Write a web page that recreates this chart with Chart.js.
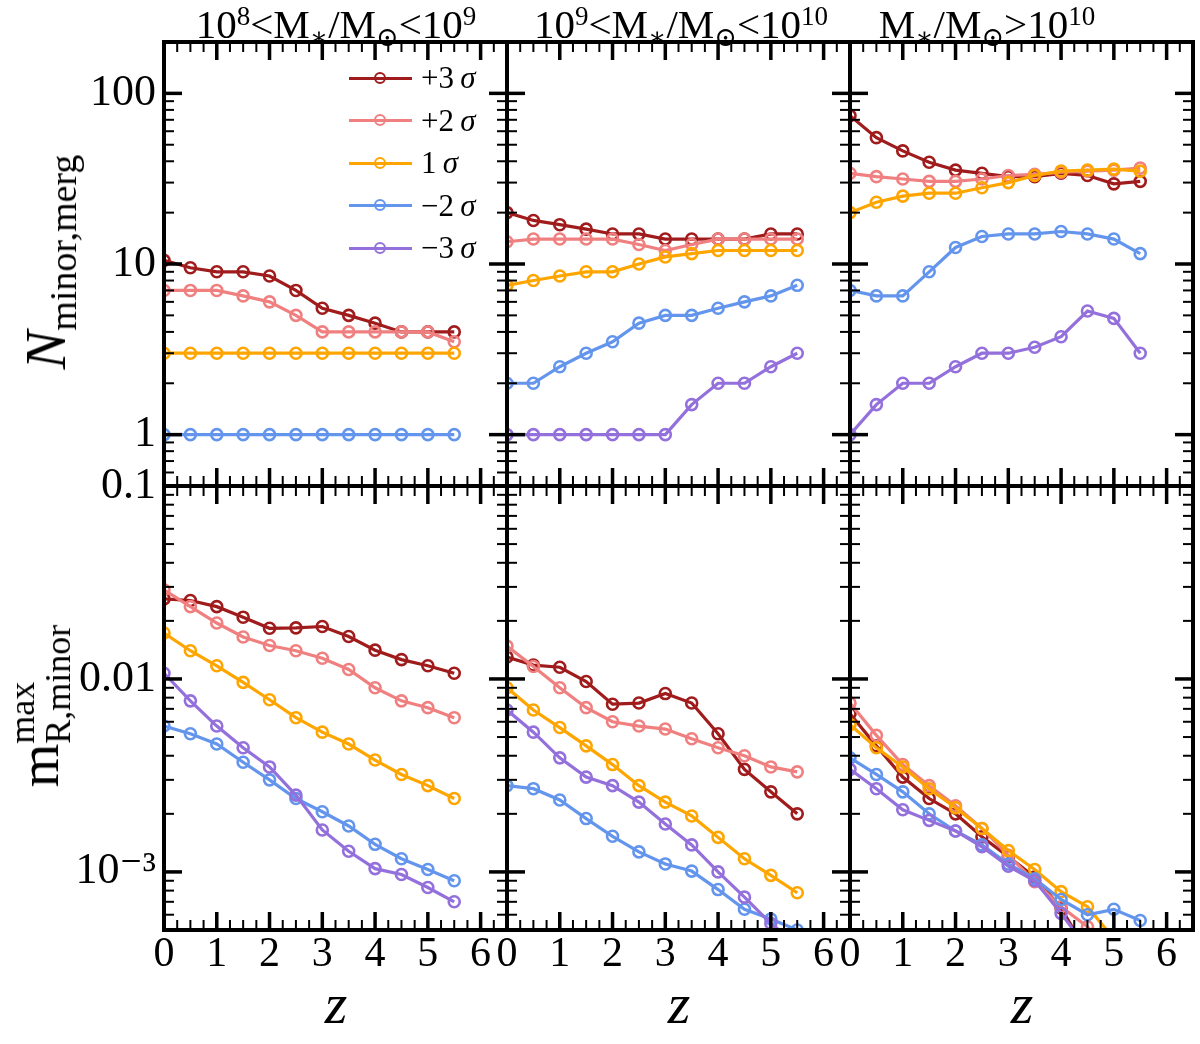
<!DOCTYPE html>
<html>
<head>
<meta charset="utf-8">
<script src="https://cdn.jsdelivr.net/npm/chart.js@4.4.0/dist/chart.umd.min.js"></script>
<style>
html,body{margin:0;padding:0;background:#fff;}
#root{position:relative;width:1200px;height:1044px;overflow:hidden;background:#fff;font-family:'Liberation Serif','DejaVu Serif',serif;color:#000;}
canvas{position:absolute;}
.title{position:absolute;font-size:41px;line-height:1;white-space:nowrap;transform:translateX(-50%);}
.sp{position:relative;top:-0.48em;font-size:0.66em;}
.sb{position:relative;top:0.28em;font-size:0.66em;}
.xt{position:absolute;font-size:58px;font-style:italic;line-height:1;transform:translate(-50%,-50%);}
.yt{position:absolute;white-space:nowrap;line-height:1;transform:translate(-50%,-50%) rotate(-90deg);}
.leg-line{position:absolute;height:3px;}
.leg-dot{position:absolute;width:8px;height:8px;border-radius:50%;border:2.5px solid;background:transparent;}
.leg-txt{position:absolute;font-size:31px;line-height:31px;white-space:nowrap;}
</style>
</head>
<body>
<div id="root"></div>
<script>
// ---------------- data ----------------
const zValues = [0, 0.5, 1, 1.5, 2, 2.5, 3, 3.5, 4, 4.5, 5, 5.5];
const seriesLabels = ['+3σ', '+2σ', '1σ', '−2σ', '−3σ'];
const seriesColors = ['#a01c1c', '#f08080', '#ffa500', '#6495ed', '#9370db'];
const xTickValues = [0, 1, 2, 3, 4, 5, 6];
const nTickValues = [1, 10, 100];
const nTickLabels = ['1', '10', '100'];
const mTickValues = [0.001, 0.01, 0.1];
const mTickLabels = ['10⁻³', '0.01', '0.1'];
const panelTitles = [
  '10<span class="sp">8</span>&lt;M<span class="sb">∗</span>/M<span class="sb">⊙</span>&lt;10<span class="sp">9</span>',
  '10<span class="sp">9</span>&lt;M<span class="sb">∗</span>/M<span class="sb">⊙</span>&lt;10<span class="sp">10</span>',
  'M<span class="sb">∗</span>/M<span class="sb">⊙</span>&gt;10<span class="sp">10</span>'
];

// N_minor,merg : 1e8 < M* < 1e9
const nLo_p3 = [10.5, 9.5, 9, 9, 8.5, 7, 5.5, 5, 4.5, 4, 4, 4];
const nLo_p2 = [7, 7, 7, 6.5, 6, 5, 4, 4, 4, 4, 4, 3.5];
const nLo_1  = [3, 3, 3, 3, 3, 3, 3, 3, 3, 3, 3, 3];
const nLo_m2 = [1, 1, 1, 1, 1, 1, 1, 1, 1, 1, 1, 1];
const nLo_m3 = [0, 0, 0, 0, 0, 0, 0, 0, 0, 0, 0, 0];
// N_minor,merg : 1e9 < M* < 1e10
const nMid_p3 = [20, 18, 17, 16, 15, 15, 14, 14, 14, 14, 15, 15];
const nMid_p2 = [13.5, 14, 14, 14, 14, 13, 12, 13, 14, 14, 14, 14];
const nMid_1  = [7.5, 8, 8.5, 9, 9, 10, 11, 11.5, 12, 12, 12, 12];
const nMid_m2 = [2, 2, 2.5, 3, 3.5, 4.5, 5, 5, 5.5, 6, 6.5, 7.5];
const nMid_m3 = [1, 1, 1, 1, 1, 1, 1, 1.5, 2, 2, 2.5, 3];
// N_minor,merg : M* > 1e10
const nHi_p3 = [74, 55, 46, 39.5, 35.5, 34, 32.5, 32.5, 34, 33, 29.5, 30.5];
const nHi_p2 = [34, 32.5, 31.5, 30.5, 30.5, 31.5, 33, 33.5, 34.5, 35, 35.5, 36.5];
const nHi_1  = [20, 23, 25, 26, 26, 28, 30, 33, 35, 35.5, 36, 35];
const nHi_m2 = [7, 6.5, 6.5, 9, 12.5, 14.5, 15, 15, 15.5, 15, 14, 11.5];
const nHi_m3 = [1, 1.5, 2, 2, 2.5, 3, 3, 3.25, 3.75, 5.3, 4.8, 3];

// m^max_R,minor : 1e8 < M* < 1e9
const mLo_p3 = [0.026, 0.0255, 0.0237, 0.0209, 0.0183, 0.0184, 0.0187, 0.0166, 0.0141, 0.0126, 0.0117, 0.0107];
const mLo_p2 = [0.029, 0.0237, 0.0195, 0.0165, 0.0149, 0.0140, 0.0128, 0.0112, 0.0090, 0.0077, 0.0071, 0.0063];
const mLo_1  = [0.0173, 0.0140, 0.0117, 0.0096, 0.0078, 0.0063, 0.0053, 0.0046, 0.0038, 0.0032, 0.0028, 0.0024];
const mLo_m2 = [0.0057, 0.0052, 0.0046, 0.0037, 0.0030, 0.0024, 0.00205, 0.00173, 0.00139, 0.00117, 0.00103, 0.0009];
const mLo_m3 = [0.0107, 0.0077, 0.0057, 0.0044, 0.0035, 0.0025, 0.00165, 0.00128, 0.00104, 0.00097, 0.00083, 0.0007];
// m^max_R,minor : 1e9 < M* < 1e10
const mMid_p3 = [0.0130, 0.0118, 0.0115, 0.0097, 0.0074, 0.0075, 0.0084, 0.0075, 0.0052, 0.0034, 0.0026, 0.0020];
const mMid_p2 = [0.0148, 0.0116, 0.0090, 0.0071, 0.0060, 0.0057, 0.0055, 0.0049, 0.0044, 0.0040, 0.0035, 0.0033];
const mMid_1  = [0.0090, 0.0069, 0.0056, 0.0045, 0.0036, 0.0028, 0.0023, 0.00195, 0.00151, 0.00117, 0.00096, 0.00078];
const mMid_m2 = [0.0028, 0.0027, 0.00236, 0.00189, 0.00153, 0.00127, 0.0011, 0.00101, 0.00081, 0.00064, 0.00057, 0.0005];
const mMid_m3 = [0.0069, 0.0053, 0.0039, 0.0031, 0.0028, 0.0023, 0.00177, 0.00138, 0.0010, 0.00074, 0.00054, 0.00042];
// m^max_R,minor : M* > 1e10
const mHi_p3 = [0.0066, 0.0045, 0.0031, 0.0024, 0.0020, 0.00152, 0.0012, 0.00094, 0.00065, 0.00038, 0.0003, 0.00025];
const mHi_p2 = [0.0075, 0.0051, 0.0036, 0.0028, 0.0022, 0.00168, 0.00122, 0.00089, 0.00066, 0.00052, 0.00035, 0.00025];
const mHi_1  = [0.0058, 0.0044, 0.0035, 0.0027, 0.00215, 0.00168, 0.00129, 0.00103, 0.00079, 0.00066, 0.00045, 0.00035];
const mHi_m2 = [0.0039, 0.0032, 0.0026, 0.0020, 0.00163, 0.00138, 0.0011, 0.00092, 0.00072, 0.0006, 0.00064, 0.00056];
const mHi_m3 = [0.0034, 0.0027, 0.0021, 0.00185, 0.00163, 0.00135, 0.00107, 0.0009, 0.00061, 0.0004, 0.0003, 0.00025];

// ---------------- layout ----------------
const FONT = "'Liberation Serif','DejaVu Serif',serif";
const COL_LEFT = [164, 507, 850];
const ROW_TOP = [42, 486];
const PW = 343, PH = 444;
const X_MIN = 0, X_MAX = 6.5, X_MINOR = 0.25;
const Y_RANGE = [[0.5, 200], [5e-4, 0.1]];

const root = document.getElementById('root');

const framePlugin = {
  id: 'frame',
  afterDraw(chart) {
    const ctx = chart.ctx, a = chart.chartArea;
    const xs = chart.scales.x, ys = chart.scales.y;
    ctx.save();
    ctx.strokeStyle = '#000';
    ctx.lineCap = 'butt';
    const line = (x1, y1, x2, y2, w) => {
      ctx.lineWidth = w; ctx.beginPath(); ctx.moveTo(x1, y1); ctx.lineTo(x2, y2); ctx.stroke();
    };
    const nx = Math.round((xs.max - xs.min) / X_MINOR);
    for (let k = 1; k < nx + 1; k++) {
      const v = xs.min + k * X_MINOR;
      if (v >= xs.max - 1e-9) break;
      const major = k % 4 === 0;
      const len = major ? 18 : 10, w = major ? 3.5 : 2;
      const px = xs.getPixelForValue(v);
      line(px, a.bottom, px, a.bottom - len, w);
      line(px, a.top, px, a.top + len, w);
    }
    const d0 = Math.floor(Math.log10(ys.min)), d1 = Math.ceil(Math.log10(ys.max));
    for (let d = d0; d <= d1; d++) {
      for (let m = 1; m <= 9; m++) {
        const v = m * Math.pow(10, d);
        if (v <= ys.min * 1.0001 || v >= ys.max * 0.9999) continue;
        const major = m === 1;
        const len = major ? 18 : 10, w = major ? 3.5 : 2;
        const py = ys.getPixelForValue(v);
        line(a.left, py, a.left + len, py, w);
        line(a.right, py, a.right - len, py, w);
      }
    }
    ctx.lineWidth = 4;
    ctx.strokeRect(a.left, a.top, a.right - a.left, a.bottom - a.top);
    ctx.restore();
  }
};

function makePanel(col, row, series) {
  const padL = col === 0 ? 164 : 40, padR = 20, padT = 44, padB = row === 1 ? 110 : 60;
  const cw = padL + PW + padR, ch = padT + PH + padB;
  const canvas = document.createElement('canvas');
  canvas.width = cw; canvas.height = ch;
  canvas.style.left = (COL_LEFT[col] - padL) + 'px';
  canvas.style.top = (ROW_TOP[row] - padT) + 'px';
  canvas.style.width = cw + 'px'; canvas.style.height = ch + 'px';
  root.appendChild(canvas);
  const tickVals = row === 0 ? nTickValues : mTickValues;
  const tickLabs = row === 0 ? nTickLabels : mTickLabels;
  new Chart(canvas, {
    type: 'line',
    data: {
      datasets: series.map((arr, i) => ({
        label: seriesLabels[i],
        data: zValues.map((z, j) => ({ x: z, y: arr[j] > 0 ? arr[j] : null })),
        borderColor: seriesColors[i],
        backgroundColor: 'rgba(0,0,0,0)',
        borderWidth: 3.2,
        pointRadius: 5.5,
        pointBorderWidth: 2.6,
        pointBackgroundColor: 'rgba(0,0,0,0)',
        pointBorderColor: seriesColors[i],
        tension: 0,
        order: series.length - i
      }))
    },
    options: {
      responsive: false, animation: false, devicePixelRatio: 1, events: [],
      layout: { padding: { left: 0, right: padR, top: padT, bottom: 0 } },
      plugins: { legend: { display: false }, tooltip: { enabled: false } },
      scales: {
        x: {
          type: 'linear', min: X_MIN, max: X_MAX, position: 'bottom',
          grid: { display: false, drawTicks: false }, border: { display: false },
          afterBuildTicks: s => { s.ticks = xTickValues.map(v => ({ value: v })); },
          afterFit: s => { s.height = padB; },
          ticks: { display: row === 1, autoSkip: false, maxRotation: 0, color: '#000',
                   padding: 0, font: { family: FONT, size: 42 }, callback: v => String(v) }
        },
        y: {
          type: 'logarithmic', min: Y_RANGE[row][0], max: Y_RANGE[row][1], position: 'left',
          grid: { display: false, drawTicks: false }, border: { display: false },
          afterBuildTicks: s => { s.ticks = tickVals.map(v => ({ value: v })); },
          afterFit: s => { s.width = padL; },
          ticks: { display: col === 0, autoSkip: false, color: '#000', padding: 8,
                   font: { family: FONT, size: 44 }, callback: (v, i) => tickLabs[i] }
        }
      }
    },
    plugins: [framePlugin]
  });
}

makePanel(0, 0, [nLo_p3, nLo_p2, nLo_1, nLo_m2, nLo_m3]);
makePanel(1, 0, [nMid_p3, nMid_p2, nMid_1, nMid_m2, nMid_m3]);
makePanel(2, 0, [nHi_p3, nHi_p2, nHi_1, nHi_m2, nHi_m3]);
makePanel(0, 1, [mLo_p3, mLo_p2, mLo_1, mLo_m2, mLo_m3]);
makePanel(1, 1, [mMid_p3, mMid_p2, mMid_1, mMid_m2, mMid_m3]);
makePanel(2, 1, [mHi_p3, mHi_p2, mHi_1, mHi_m2, mHi_m3]);

// titles
const titleCenters = [336, 681, 987];
panelTitles.forEach((t, i) => {
  const d = document.createElement('div');
  d.className = 'title'; d.innerHTML = t;
  d.style.left = titleCenters[i] + 'px'; d.style.top = '4px';
  root.appendChild(d);
});
// x axis titles
[336, 679, 1022].forEach(cx => {
  const d = document.createElement('div');
  d.className = 'xt'; d.textContent = 'z';
  d.style.left = cx + 'px'; d.style.top = '1004px';
  root.appendChild(d);
});
// y axis titles
const yN = document.createElement('div');
yN.className = 'yt';
yN.innerHTML = '<span style="font-size:58px;font-style:italic">N</span><span style="font-size:38px;position:relative;top:0.3em">minor,merg</span>';
yN.style.left = '46px'; yN.style.top = '262px';
root.appendChild(yN);
const yM = document.createElement('div');
yM.className = 'yt';
yM.innerHTML = '<span style="font-size:56px">m</span><span style="display:inline-flex;flex-direction:column;font-size:36px;line-height:1;vertical-align:24px"><span>max</span><span>R,minor</span></span>';
yM.style.left = '40px'; yM.style.top = '706px';
root.appendChild(yM);

// legend (panel 1)
const LEG_Y0 = 78, LEG_DY = 42.6, LEG_X0 = 349, LEG_X1 = 412, LEG_TX = 421;
seriesLabels.forEach((lab, i) => {
  const y = LEG_Y0 + i * LEG_DY;
  const ln = document.createElement('div');
  ln.className = 'leg-line';
  ln.style.cssText += `left:${LEG_X0}px;width:${LEG_X1 - LEG_X0}px;top:${y - 1.5}px;background:${seriesColors[i]};`;
  root.appendChild(ln);
  const dot = document.createElement('div');
  dot.className = 'leg-dot';
  dot.style.cssText += `left:${(LEG_X0 + LEG_X1) / 2 - 6.5}px;top:${y - 6.5}px;border-color:${seriesColors[i]};`;
  root.appendChild(dot);
  const tx = document.createElement('div');
  tx.className = 'leg-txt';
  tx.innerHTML = lab.replace('σ', '&thinsp;<i>σ</i>');
  tx.style.left = LEG_TX + 'px'; tx.style.top = (y - 16) + 'px';
  root.appendChild(tx);
});
</script>
</body>
</html>
